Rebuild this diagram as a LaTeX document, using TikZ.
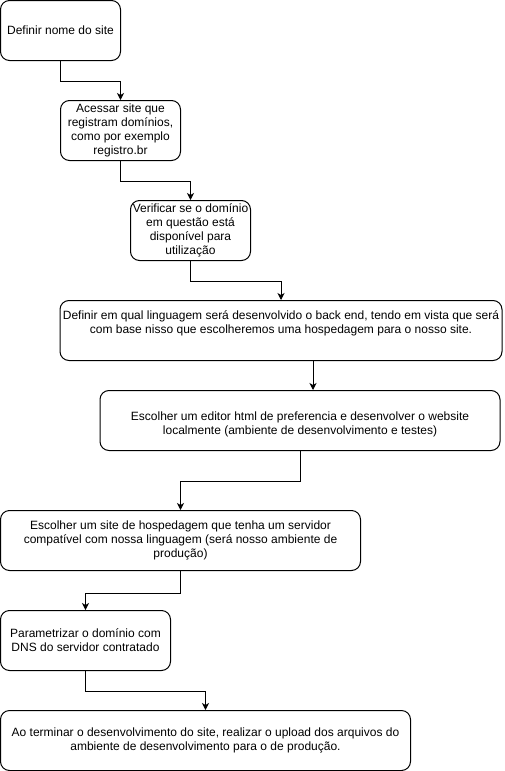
\documentclass[tikz,border=0pt]{standalone}
\usepackage{fontspec}
\setmainfont{Liberation Sans}
\usetikzlibrary{arrows.meta}

\tikzset{
	stepbox/.style={draw, rounded corners=9pt, line width=1pt, minimum height=60pt, align=center, inner sep=1pt, font=\fontsize{12pt}{14pt}\selectfont},
	flow/.style={line width=1pt, -{Stealth[length=7pt,width=7pt,inset=2pt]}}
}

\begin{document}
\begin{tikzpicture}[x=1pt, y=-1pt]
	      	\useasboundingbox (0,0) rectangle (504,771);
	      	\node[stepbox, minimum width=120pt] (b1) at (60.5,30.5) {Definir nome do site};
	      	\node[stepbox, minimum width=120pt] (b2) at (120.5,130.5) {Acessar site que\\registram domínios,\\como por exemplo\\registro.br};
	      	\node[stepbox, minimum width=120pt] (b3) at (190.5,230.5) {Verificar se o domínio\\em questão está\\disponível para\\utilização};
	      	\node[stepbox, minimum width=442pt] (b4) at (281,330.5) {Definir em qual linguagem será desenvolvido o back end, tendo em vista que será\\com base nisso que escolheremos uma hospedagem para o nosso site.\rule[-16pt]{0pt}{0pt}};
	      	\node[stepbox, minimum width=400pt] (b5) at (300,420.5) {\rule{0pt}{16pt}Escolher um editor html de preferencia e desenvolver o website\\localmente (ambiente de desenvolvimento e testes)};
	      	\node[stepbox, minimum width=360pt] (b6) at (180.5,540.5) {Escolher um site de hospedagem que tenha um servidor\\compatível com nossa linguagem (será nosso ambiente de\\produção)};
	      	\node[stepbox, minimum width=170pt] (b7) at (85.5,640.5) {Parametrizar o domínio com\\DNS do servidor contratado};
	      	\node[stepbox, minimum width=410pt] (b8) at (205.5,740.5) {Ao terminar o desenvolvimento do site, realizar o upload dos arquivos do\\ambiente de desenvolvimento para o de produção.};
	      	\draw[flow] (b1.south) -- ++(0,20) -| (b2.north);
	      	\draw[flow] (b2.south) -- ++(0,20) -| (b3.north);
	      	\draw[flow] (b3.south) -- ++(0,20) -| (b4.north);
	      	\draw[flow] ([xshift=32pt]b4.south) -- ([xshift=32pt]b4.south |- b5.north);
	      	\draw[flow] (b5.south) -- ++(0,30) -| (b6.north);
	      	\draw[flow] (b6.south) -- ++(0,22) -| (b7.north);
	      	\draw[flow] (b7.south) -- ++(0,20) -| (b8.north);
	      \end{tikzpicture}
\end{document}
